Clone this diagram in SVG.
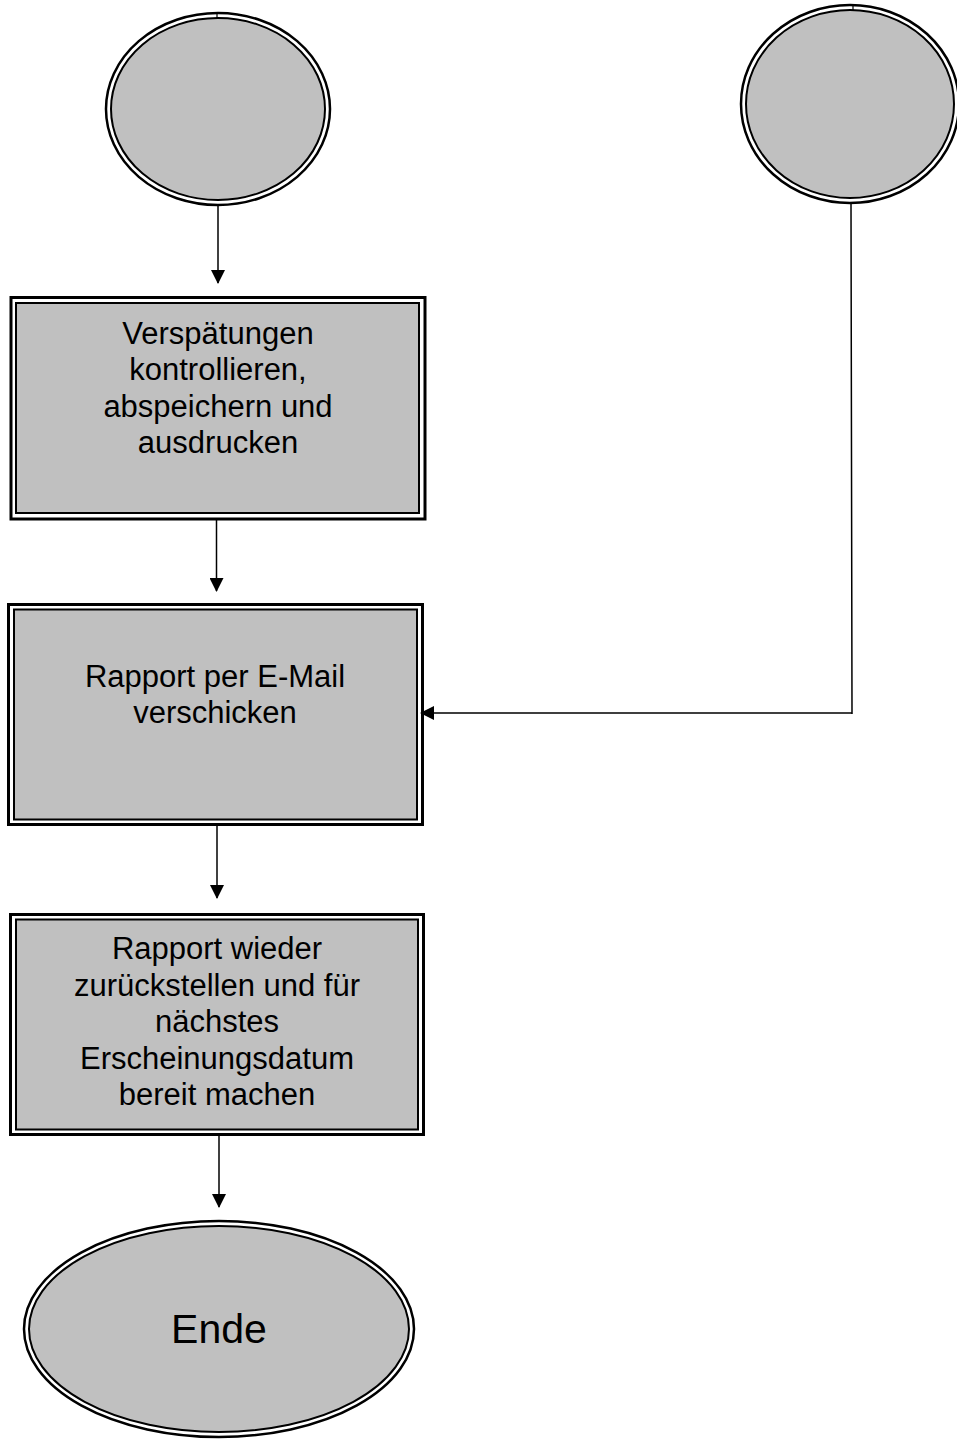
<svg xmlns="http://www.w3.org/2000/svg" width="957" height="1440" viewBox="0 0 957 1440">
<defs>
<style>
.outer{fill:#ffffff;stroke:#000;stroke-width:3}
.inner{fill:#c0c0c0;stroke:#000;stroke-width:2}
.oell{fill:#ffffff;stroke:#000;stroke-width:2.5}
.iell{fill:#c0c0c0;stroke:#000;stroke-width:2}
.lbl{font-family:"Liberation Sans",Arial,sans-serif;font-size:31px;fill:#000;text-anchor:middle}
.big{font-size:41px}
.conn{stroke:#000;stroke-width:1.5;fill:none}
.tick{stroke:#000;stroke-width:1.2}
</style>
<marker id="arr" markerWidth="14" markerHeight="14" refX="13" refY="7" orient="auto" markerUnits="userSpaceOnUse">
<path d="M0,0 L14,7 L0,14 Z" fill="#000"/>
</marker>
</defs>
<rect width="957" height="1440" fill="#ffffff"/>
<g id="start1">
<ellipse class="oell" cx="218" cy="109" rx="112" ry="96"/>
<ellipse class="iell" cx="218" cy="109" rx="107" ry="91"/>
<line class="tick" x1="217" y1="12" x2="217" y2="19"/>
</g>
<g id="start2">
<ellipse class="oell" cx="850" cy="104" rx="109" ry="99"/>
<ellipse class="iell" cx="850" cy="104" rx="104" ry="94"/>
<line class="tick" x1="853" y1="4" x2="853" y2="11"/>
</g>
<g id="step1">
<rect class="outer" x="11" y="297.5" width="414" height="221.5"/>
<rect class="inner" x="16" y="303" width="403" height="210"/>
<text class="lbl" x="218" y="344">Verspätungen</text>
<text class="lbl" x="218" y="380">kontrollieren,</text>
<text class="lbl" x="218" y="417">abspeichern und</text>
<text class="lbl" x="218" y="453">ausdrucken</text>
</g>
<g id="step2">
<rect class="outer" x="8.5" y="604.5" width="414" height="220"/>
<rect class="inner" x="14" y="609.5" width="403" height="210"/>
<text class="lbl" x="215" y="687">Rapport per E-Mail</text>
<text class="lbl" x="215" y="723">verschicken</text>
</g>
<g id="step3">
<rect class="outer" x="10.5" y="914.5" width="413" height="220"/>
<rect class="inner" x="16" y="919.5" width="402" height="210"/>
<text class="lbl" x="217" y="959">Rapport wieder</text>
<text class="lbl" x="217" y="996">zurückstellen und für</text>
<text class="lbl" x="217" y="1032">nächstes</text>
<text class="lbl" x="217" y="1069">Erscheinungsdatum</text>
<text class="lbl" x="217" y="1105">bereit machen</text>
</g>
<g id="end">
<ellipse class="oell" cx="219" cy="1329" rx="195" ry="108"/>
<ellipse class="iell" cx="219" cy="1329" rx="190" ry="103"/>
<text class="lbl big" x="219" y="1343">Ende</text>
</g>
<g id="connectors">
<line class="conn" x1="218" y1="206" x2="218" y2="283" marker-end="url(#arr)"/>
<line class="conn" x1="216.5" y1="520" x2="216.5" y2="591" marker-end="url(#arr)"/>
<line class="conn" x1="217" y1="826" x2="217" y2="898" marker-end="url(#arr)"/>
<line class="conn" x1="219" y1="1136" x2="219" y2="1207" marker-end="url(#arr)"/>
<polyline class="conn" points="851,203 852,714 852,713 421,713" marker-end="url(#arr)"/>
</g>
</svg>
